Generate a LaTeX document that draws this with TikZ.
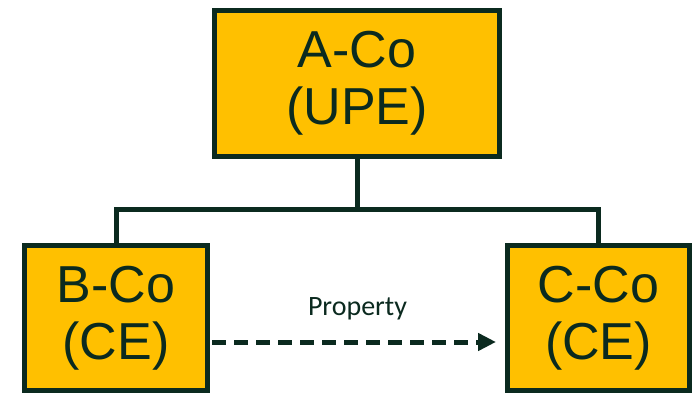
\documentclass[tikz,border=0pt]{standalone}
\usepackage{fontspec}
\setmainfont{Liberation Sans}
\newfontfamily\labelfont{Carlito}
\usetikzlibrary{arrows.meta}

\definecolor{cofill}{HTML}{FFC000}
\definecolor{coline}{HTML}{0B2A1F}

\tikzstyle{company}=[draw=coline, fill=cofill, line width=5pt, text=coline, align=center, inner sep=0pt, font=\fontsize{52}{57}\selectfont]
\tikzstyle{link}=[draw=coline, line width=5pt]

\begin{document}
\begin{tikzpicture}[x=1pt,y=-1pt]

\useasboundingbox (0,0) rectangle (697,393);

\node[company, minimum width=285pt, minimum height=146pt] (upe) at (357,83.5) {A-Co\\(UPE)};
\node[company, minimum width=183pt, minimum height=145pt] (ceb) at (116,318) {B-Co\\(CE)};
\node[company, minimum width=182pt, minimum height=145pt] (cec) at (598.5,318) {C-Co\\(CE)};

\draw[link] (upe.south) -- ++(0,51) coordinate (bus);
\draw[link] (ceb.north) |- (bus) -| (cec.north);

\draw[link, dash pattern=on 14pt off 8pt, -{Triangle[length=18pt,width=17pt]}, shorten <=2pt, shorten >=9pt]
  ([yshift=-24pt]ceb.east) -- ([yshift=-24pt]cec.west)
  node[midway, above=16pt, text=coline, font=\labelfont\fontsize{28}{32}\selectfont] (prop) {Property};

\end{tikzpicture}
\end{document}
